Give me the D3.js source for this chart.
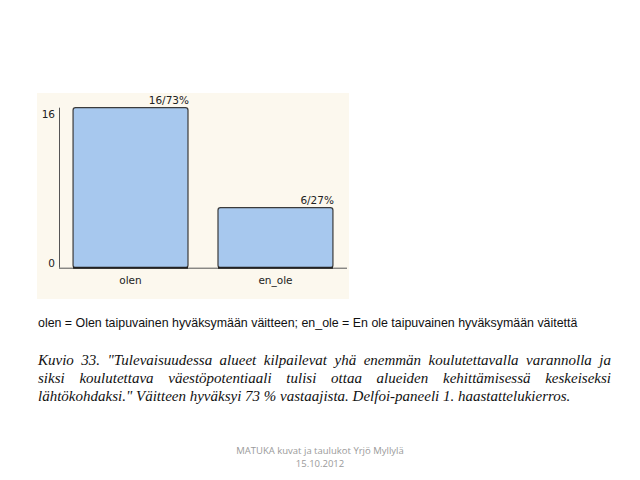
<!DOCTYPE html>
<html>
<head>
<meta charset="utf-8">
<script src="https://cdn.jsdelivr.net/npm/d3@7"></script>
<style>
    html, body { margin: 0; padding: 0; background: #fff; }
    svg { display: block; }
</style>
</head>
<body>
<svg id="chart" width="640" height="480"></svg>
<script>
    // data
    const categories = ["olen", "en_ole"];
    const counts = [16, 6];
    const percents = [73, 27];
    const yTicks = [0, 16];

    const legendText = "olen = Olen taipuvainen hyväksymään väitteen; en_ole = En ole taipuvainen hyväksymään väitettä";
    const captionLines = [
        "Kuvio 33. \"Tulevaisuudessa alueet kilpailevat yhä enemmän koulutettavalla varannolla ja",
        "siksi koulutettava väestöpotentiaali tulisi ottaa alueiden kehittämisessä keskeiseksi",
        "lähtökohdaksi.\" Väitteen hyväksyi 73 % vastaajista. Delfoi-paneeli 1. haastattelukierros."
    ];
    const footerLines = ["MATUKA kuvat ja taulukot Yrjö Myllylä", "15.10.2012"];

    const svg = d3.select("#chart");

    // chart panel
    svg.append("rect")
        .attr("x", 37).attr("y", 93)
        .attr("width", 312).attr("height", 206)
        .attr("fill", "#fcf8ee");

    const x = d3.scaleBand()
        .domain(categories)
        .range([59, 347])
        .paddingInner(0.207)
        .paddingOuter(0.097);

    const y = d3.scaleLinear()
        .domain([0, 16])
        .range([267.7, 107.7]);

    const bars = categories.map((c, i) => ({cat: c, n: counts[i], pct: percents[i]}));

    svg.selectAll("rect.bar")
        .data(bars)
        .enter()
        .append("rect")
        .attr("class", "bar")
        .attr("x", d => x(d.cat))
        .attr("y", d => y(d.n))
        .attr("width", x.bandwidth())
        .attr("height", d => y(0) - y(d.n))
        .attr("rx", 2.5)
        .attr("fill", "#a7c8ee")
        .attr("stroke", "#3b3b3b")
        .attr("stroke-width", 1.2);

    // axes
    svg.append("line")
        .attr("x1", 59.5).attr("x2", 59.5)
        .attr("y1", y(16)).attr("y2", y(0))
        .attr("stroke", "#555").attr("stroke-width", 1);
    svg.append("line")
        .attr("x1", 59).attr("x2", 347)
        .attr("y1", y(0) + 0.5).attr("y2", y(0) + 0.5)
        .attr("stroke", "#555").attr("stroke-width", 1);
    svg.selectAll("line.base")
        .data(bars)
        .enter()
        .append("line")
        .attr("class", "base")
        .attr("x1", d => x(d.cat)).attr("x2", d => x(d.cat) + x.bandwidth())
        .attr("y1", y(0)).attr("y2", y(0))
        .attr("stroke", "#222").attr("stroke-width", 2);

    const chartFont = "'DejaVu Sans', sans-serif";

    // top tick sits below its level, bottom one above the axis
    svg.selectAll("text.ytick")
        .data(yTicks)
        .enter()
        .append("text")
        .attr("class", "ytick")
        .attr("x", 55)
        .attr("y", d => y(d) + (d === d3.max(yTicks) ? 10 : -1))
        .attr("text-anchor", "end")
        .attr("font-family", chartFont)
        .attr("font-size", 10.5)
        .attr("fill", "#222")
        .text(d => d);

    svg.selectAll("text.val")
        .data(bars)
        .enter()
        .append("text")
        .attr("class", "val")
        .attr("x", d => x(d.cat) + x.bandwidth() + 1)
        .attr("y", d => y(d.n) - 4)
        .attr("text-anchor", "end")
        .attr("font-family", chartFont)
        .attr("font-size", 10.5)
        .attr("fill", "#222")
        .text(d => d.n + "/" + d.pct + "%");

    svg.selectAll("text.cat")
        .data(bars)
        .enter()
        .append("text")
        .attr("class", "cat")
        .attr("x", d => x(d.cat) + x.bandwidth() / 2)
        .attr("y", 284)
        .attr("text-anchor", "middle")
        .attr("font-family", chartFont)
        .attr("font-size", 10.5)
        .attr("fill", "#222")
        .text(d => d.cat);

    // legend line
    svg.append("text")
        .attr("x", 38).attr("y", 327)
        .attr("font-family", "'Liberation Sans', Arial, sans-serif")
        .attr("font-size", 12.4)
        .attr("fill", "#111")
        .text(legendText);

    // caption, justified except the last line
    const capLeft = 38, capRight = 611, capSize = 15;
    captionLines.forEach((line, li) => {
        const baseY = 365 + li * 18;
        const g = svg.append("g");
        const words = line.split(" ");
        const nodes = words.map(w => g.append("text")
            .attr("y", baseY)
            .attr("font-family", "'Liberation Serif', 'Times New Roman', serif")
            .attr("font-style", "italic")
            .attr("font-size", capSize)
            .attr("fill", "#111")
            .text(w));
        const widths = nodes.map(n => n.node().getComputedTextLength());
        const total = widths.reduce((a, b) => a + b, 0);
        let gap = capSize * 0.25;
        if (li < captionLines.length - 1) gap = (capRight - capLeft - total) / (words.length - 1);
        let cx = capLeft;
        nodes.forEach((n, i) => {
            n.attr("x", cx);
            cx += widths[i] + gap;
        });
    });

    // footer
    svg.selectAll("text.foot")
        .data(footerLines)
        .enter()
        .append("text")
        .attr("class", "foot")
        .attr("x", 320)
        .attr("y", (d, i) => 454 + i * 12.5)
        .attr("text-anchor", "middle")
        .attr("font-family", "'Open Sans', sans-serif")
        .attr("font-size", 9.5)
        .attr("fill", "#9a9a9a")
        .text(d => d);
</script>
</body>
</html>
